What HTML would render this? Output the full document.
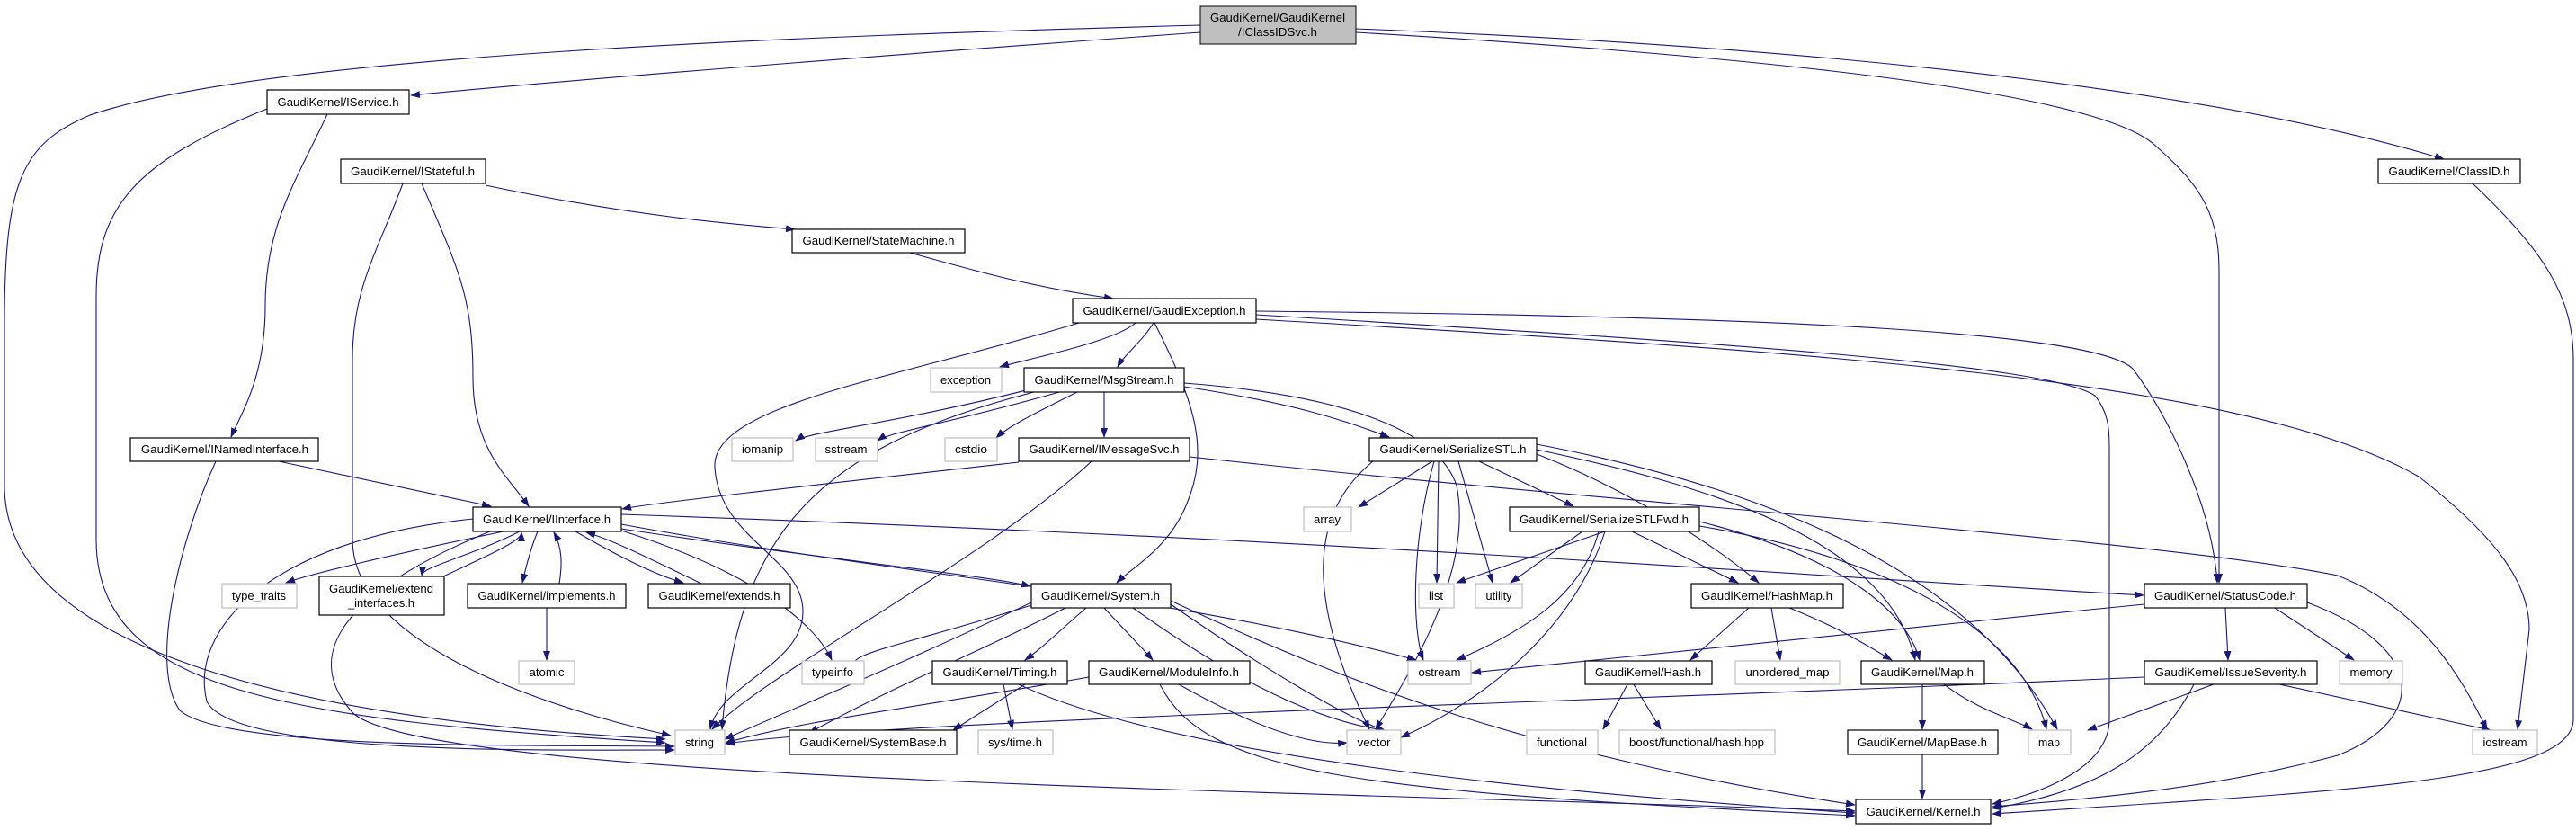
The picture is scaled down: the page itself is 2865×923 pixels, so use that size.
<!DOCTYPE html>
<html><head><meta charset="utf-8"><style>
html,body{margin:0;padding:0;background:#fff;}
svg{display:block;}
text{font-family:"Liberation Sans",sans-serif;font-size:12.5px;fill:#000;}
</style></head><body>
<svg id="g" width="2865" height="923" viewBox="0 0 2865 923" xmlns="http://www.w3.org/2000/svg">
<defs><marker id="ah" markerUnits="userSpaceOnUse" markerWidth="11" markerHeight="9" refX="10" refY="4" orient="auto"><path d="M0,0 L11,4 L0,8 z" fill="#191970"/></marker></defs>
<g id="edges" fill="none" stroke="#191970" stroke-width="1.1"></g>
<g id="nodes">
<rect x="1335" y="7" width="173" height="42" fill="#bfbfbf" stroke="#000"/>
<text x="1421" y="24" text-anchor="middle" textLength="150" lengthAdjust="spacingAndGlyphs">GaudiKernel/GaudiKernel</text>
<text x="1421" y="40" text-anchor="middle" textLength="88" lengthAdjust="spacingAndGlyphs">/IClassIDSvc.h</text>
</g>
</svg>
<script>
var NS='http://www.w3.org/2000/svg';
var E=document.getElementById('edges');
function P(d){var p=document.createElementNS(NS,'path');p.setAttribute('d',d);p.setAttribute('marker-end','url(#ah)');E.appendChild(p);}
P('M1335,28 C900,40 300,60 100,128 C25,160 5,200 5,360 L5,540 C5,720 320,800 740,822');
P('M1335,36 C1000,60 620,90 457,106');
P('M1508,32 C2100,55 2500,110 2718,177');
P('M1508,36 C2000,65 2330,105 2395,160 C2440,200 2468,230 2468,300 L2468,648');
P('M297,121 C150,180 107,230 107,330 L107,600 C107,770 320,800 740,826');
P('M364,127 C330,200 295,250 295,340 C295,420 268,460 257,486');
P('M448,204 C420,280 392,320 392,400 L392,600 C392,720 620,790 746,818');
P('M469,204 C510,300 526,330 526,420 C526,500 565,530 588,563');
P('M540,206 C700,240 820,250 884,255');
P('M1012,281 C1080,300 1150,320 1238,332');
P('M1200,359 C1000,420 790,450 795,520 C800,600 893,620 893,680 C893,740 800,760 790,811');
P('M1284,359 C1330,450 1345,500 1320,560 C1300,610 1260,630 1242,648');
P('M1397,346 C2000,352 2330,370 2372,410 C2410,460 2460,560 2466,648');
P('M1397,350 C1900,380 2280,405 2330,440 C2346,460 2346,480 2346,500 L2346,800 C2346,850 2280,880 2216,894');
P('M1397,355 C2000,390 2500,420 2690,530 C2780,600 2813,650 2813,700 L2800,811');
P('M1263,359 C1240,380 1140,400 1112,408');
P('M1283,359 C1270,380 1250,395 1243,408');
P('M2750,204 C2830,280 2862,330 2862,400 L2862,800 C2862,870 2600,880 2216,905');
P('M1323,508 C1800,560 2400,600 2600,640 C2700,680 2740,760 2766,811');
P('M1133,514 C900,540 720,560 692,566');
P('M1214,513 C1100,620 850,750 792,811');
P('M1317,430 C1450,450 1500,470 1545,486');
P('M1317,426 C1500,440 1600,480 1620,540 C1640,640 1560,760 1530,811');
P('M1150,436 C900,500 820,600 803,811');
P('M1145,433 C1000,470 900,480 885,490');
P('M1178,436 C1060,470 990,480 976,490');
P('M1198,436 C1150,460 1120,475 1108,487');
P('M1228,436 L1228,486');
P('M310,513 L546,563');
P('M240,513 C200,600 165,740 200,790 C250,835 600,828 750,830');
P('M526,577 C300,600 210,700 230,780 C260,840 600,834 750,834');
P('M545,591 C400,650 330,720 390,790 C450,870 1500,880 2063,902');
P('M691,572 C1500,600 2000,640 2384,662');
P('M691,583 C1000,640 1300,660 1575,734');
P('M691,588 C900,620 1100,640 1146,652');
P('M691,590 C850,640 910,700 925,734');
P('M2385,672 C2100,700 1800,730 1637,748');
P('M2385,753 C1800,780 1000,800 807,827');
P('M2475,676 L2478,734');
P('M2530,676 L2618,734');
P('M2566,670 C2700,720 2700,800 2600,840 C2450,880 2300,890 2216,897');
P('M2462,761 L2322,812');
P('M2440,761 C2400,840 2330,880 2216,899');
P('M2535,761 L2770,812');
P('M1302,668 C1500,760 1700,840 2063,895');
P('M1260,676 C1350,740 1450,800 1540,812');
P('M1302,672 C1400,740 1500,800 1540,812');
P('M1228,676 C1250,700 1270,720 1282,734');
P('M1208,676 C1180,700 1160,720 1140,734');
P('M1185,676 C1100,720 1000,760 900,815');
P('M1147,670 C1000,740 900,780 806,822');
P('M1147,673 C1000,720 920,730 961,745');
P('M1140,761 L1060,812');
P('M1116,761 L1126,811');
P('M1133,761 C1300,840 1700,880 2063,904');
P('M1211,753 C1000,790 900,800 807,826');
P('M1311,761 C1380,800 1450,830 1498,826');
P('M1290,761 C1340,860 1500,880 2063,907');
P('M1595,513 C1570,600 1570,700 1583,734');
P('M1600,513 L1598,648');
P('M1622,513 L1660,648');
P('M1593,513 L1511,564');
P('M1645,513 L1750,563');
P('M1527,513 C1470,560 1440,640 1523,811');
P('M1709,505 C1800,540 1900,600 1956,648');
P('M1709,500 C1900,540 2100,600 2130,734');
P('M1709,494 C2000,550 2200,650 2288,811');
P('M1785,591 L1620,648');
P('M1760,591 L1680,648');
P('M1778,591 C1760,660 1700,700 1620,734');
P('M1785,591 C1750,700 1650,780 1558,820');
P('M1815,591 L1933,648');
P('M1890,580 C2050,620 2120,680 2135,734');
P('M1890,585 C2100,620 2250,700 2276,811');
P('M1945,676 L1880,734');
P('M1970,676 L1980,734');
P('M1990,676 C2050,700 2080,720 2104,734');
P('M1810,761 L1783,811');
P('M1817,761 L1847,811');
P('M2138,761 L2138,811');
P('M2162,761 C2200,790 2240,800 2260,811');
P('M2138,839 L2138,888');
P('M598,591 C590,610 585,630 581,648');
P('M622,649 C625,630 626,610 616,592');
P('M578,591 C520,620 470,630 469,640');
P('M493,641 C560,610 580,600 580,592');
P('M640,591 C690,620 730,640 760,648');
P('M780,649 C720,620 680,600 652,592');
P('M560,591 C420,620 340,640 318,648');
P('M608,676 L608,734');
</script>
<svg style="position:absolute;left:0;top:0" width="2865" height="923" xmlns="http://www.w3.org/2000/svg">
<g stroke-width="1.2">
<rect x="297" y="100" width="158" height="27" fill="#fff" stroke="#000"/><text x="376" y="118" text-anchor="middle" textLength="135" lengthAdjust="spacingAndGlyphs">GaudiKernel/IService.h</text>
<rect x="379" y="177" width="161" height="27" fill="#fff" stroke="#000"/><text x="459" y="195" text-anchor="middle" textLength="138" lengthAdjust="spacingAndGlyphs">GaudiKernel/IStateful.h</text>
<rect x="2645" y="177" width="158" height="27" fill="#fff" stroke="#000"/><text x="2724" y="195" text-anchor="middle" textLength="135" lengthAdjust="spacingAndGlyphs">GaudiKernel/ClassID.h</text>
<rect x="881" y="255" width="192" height="26" fill="#fff" stroke="#000"/><text x="977" y="272" text-anchor="middle" textLength="169" lengthAdjust="spacingAndGlyphs">GaudiKernel/StateMachine.h</text>
<rect x="1193" y="332" width="204" height="27" fill="#fff" stroke="#000"/><text x="1295" y="350" text-anchor="middle" textLength="181" lengthAdjust="spacingAndGlyphs">GaudiKernel/GaudiException.h</text>
<rect x="1035" y="409" width="79" height="27" fill="#fff" stroke="#bfbfbf"/><text x="1074" y="427" text-anchor="middle" textLength="56" lengthAdjust="spacingAndGlyphs">exception</text>
<rect x="1139" y="409" width="178" height="27" fill="#fff" stroke="#000"/><text x="1228" y="427" text-anchor="middle" textLength="155" lengthAdjust="spacingAndGlyphs">GaudiKernel/MsgStream.h</text>
<rect x="145" y="487" width="209" height="26" fill="#fff" stroke="#000"/><text x="250" y="504" text-anchor="middle" textLength="186" lengthAdjust="spacingAndGlyphs">GaudiKernel/INamedInterface.h</text>
<rect x="814" y="487" width="68" height="26" fill="#fff" stroke="#bfbfbf"/><text x="848" y="504" text-anchor="middle" textLength="46" lengthAdjust="spacingAndGlyphs">iomanip</text>
<rect x="907" y="487" width="69" height="26" fill="#fff" stroke="#bfbfbf"/><text x="941" y="504" text-anchor="middle" textLength="47" lengthAdjust="spacingAndGlyphs">sstream</text>
<rect x="1051" y="487" width="58" height="26" fill="#fff" stroke="#bfbfbf"/><text x="1080" y="504" text-anchor="middle" textLength="36" lengthAdjust="spacingAndGlyphs">cstdio</text>
<rect x="1133" y="487" width="190" height="26" fill="#fff" stroke="#000"/><text x="1228" y="504" text-anchor="middle" textLength="167" lengthAdjust="spacingAndGlyphs">GaudiKernel/IMessageSvc.h</text>
<rect x="1523" y="487" width="186" height="26" fill="#fff" stroke="#000"/><text x="1616" y="504" text-anchor="middle" textLength="163" lengthAdjust="spacingAndGlyphs">GaudiKernel/SerializeSTL.h</text>
<rect x="526" y="564" width="165" height="27" fill="#fff" stroke="#000"/><text x="608" y="582" text-anchor="middle" textLength="142" lengthAdjust="spacingAndGlyphs">GaudiKernel/IInterface.h</text>
<rect x="1450" y="564" width="53" height="27" fill="#fff" stroke="#bfbfbf"/><text x="1476" y="582" text-anchor="middle" textLength="30" lengthAdjust="spacingAndGlyphs">array</text>
<rect x="1679" y="564" width="211" height="27" fill="#fff" stroke="#000"/><text x="1784" y="582" text-anchor="middle" textLength="188" lengthAdjust="spacingAndGlyphs">GaudiKernel/SerializeSTLFwd.h</text>
<rect x="247" y="649" width="83" height="27" fill="#fff" stroke="#bfbfbf"/><text x="288" y="667" text-anchor="middle" textLength="60" lengthAdjust="spacingAndGlyphs">type_traits</text>
<rect x="355" y="641" width="139" height="43" fill="#fff" stroke="#000"/><text x="424" y="659" text-anchor="middle" textLength="116" lengthAdjust="spacingAndGlyphs">GaudiKernel/extend</text><text x="424" y="675" text-anchor="middle" textLength="74" lengthAdjust="spacingAndGlyphs">_interfaces.h</text>
<rect x="520" y="649" width="176" height="27" fill="#fff" stroke="#000"/><text x="608" y="667" text-anchor="middle" textLength="153" lengthAdjust="spacingAndGlyphs">GaudiKernel/implements.h</text>
<rect x="721" y="649" width="158" height="27" fill="#fff" stroke="#000"/><text x="800" y="667" text-anchor="middle" textLength="135" lengthAdjust="spacingAndGlyphs">GaudiKernel/extends.h</text>
<rect x="1147" y="649" width="155" height="27" fill="#fff" stroke="#000"/><text x="1224" y="667" text-anchor="middle" textLength="132" lengthAdjust="spacingAndGlyphs">GaudiKernel/System.h</text>
<rect x="1578" y="649" width="39" height="27" fill="#fff" stroke="#bfbfbf"/><text x="1597" y="667" text-anchor="middle" textLength="16" lengthAdjust="spacingAndGlyphs">list</text>
<rect x="1641" y="649" width="52" height="27" fill="#fff" stroke="#bfbfbf"/><text x="1667" y="667" text-anchor="middle" textLength="29" lengthAdjust="spacingAndGlyphs">utility</text>
<rect x="1881" y="649" width="169" height="27" fill="#fff" stroke="#000"/><text x="1965" y="667" text-anchor="middle" textLength="146" lengthAdjust="spacingAndGlyphs">GaudiKernel/HashMap.h</text>
<rect x="2385" y="649" width="181" height="27" fill="#fff" stroke="#000"/><text x="2475" y="667" text-anchor="middle" textLength="158" lengthAdjust="spacingAndGlyphs">GaudiKernel/StatusCode.h</text>
<rect x="577" y="735" width="62" height="26" fill="#fff" stroke="#bfbfbf"/><text x="608" y="752" text-anchor="middle" textLength="39" lengthAdjust="spacingAndGlyphs">atomic</text>
<rect x="892" y="735" width="69" height="26" fill="#fff" stroke="#bfbfbf"/><text x="926" y="752" text-anchor="middle" textLength="46" lengthAdjust="spacingAndGlyphs">typeinfo</text>
<rect x="1037" y="735" width="150" height="26" fill="#fff" stroke="#000"/><text x="1112" y="752" text-anchor="middle" textLength="127" lengthAdjust="spacingAndGlyphs">GaudiKernel/Timing.h</text>
<rect x="1211" y="735" width="179" height="26" fill="#fff" stroke="#000"/><text x="1300" y="752" text-anchor="middle" textLength="156" lengthAdjust="spacingAndGlyphs">GaudiKernel/ModuleInfo.h</text>
<rect x="1566" y="735" width="70" height="26" fill="#fff" stroke="#bfbfbf"/><text x="1601" y="752" text-anchor="middle" textLength="47" lengthAdjust="spacingAndGlyphs">ostream</text>
<rect x="1763" y="735" width="141" height="26" fill="#fff" stroke="#000"/><text x="1833" y="752" text-anchor="middle" textLength="118" lengthAdjust="spacingAndGlyphs">GaudiKernel/Hash.h</text>
<rect x="1930" y="735" width="116" height="26" fill="#fff" stroke="#bfbfbf"/><text x="1988" y="752" text-anchor="middle" textLength="93" lengthAdjust="spacingAndGlyphs">unordered_map</text>
<rect x="2070" y="735" width="137" height="26" fill="#fff" stroke="#000"/><text x="2138" y="752" text-anchor="middle" textLength="114" lengthAdjust="spacingAndGlyphs">GaudiKernel/Map.h</text>
<rect x="2385" y="735" width="192" height="26" fill="#fff" stroke="#000"/><text x="2481" y="752" text-anchor="middle" textLength="169" lengthAdjust="spacingAndGlyphs">GaudiKernel/IssueSeverity.h</text>
<rect x="2602" y="735" width="70" height="26" fill="#fff" stroke="#bfbfbf"/><text x="2637" y="752" text-anchor="middle" textLength="47" lengthAdjust="spacingAndGlyphs">memory</text>
<rect x="751" y="812" width="55" height="27" fill="#fff" stroke="#bfbfbf"/><text x="778" y="830" text-anchor="middle" textLength="32" lengthAdjust="spacingAndGlyphs">string</text>
<rect x="878" y="812" width="186" height="27" fill="#fff" stroke="#000"/><text x="971" y="830" text-anchor="middle" textLength="163" lengthAdjust="spacingAndGlyphs">GaudiKernel/SystemBase.h</text>
<rect x="1088" y="812" width="83" height="27" fill="#fff" stroke="#bfbfbf"/><text x="1129" y="830" text-anchor="middle" textLength="60" lengthAdjust="spacingAndGlyphs">sys/time.h</text>
<rect x="1498" y="812" width="60" height="27" fill="#fff" stroke="#bfbfbf"/><text x="1528" y="830" text-anchor="middle" textLength="37" lengthAdjust="spacingAndGlyphs">vector</text>
<rect x="1698" y="812" width="79" height="27" fill="#fff" stroke="#bfbfbf"/><text x="1737" y="830" text-anchor="middle" textLength="56" lengthAdjust="spacingAndGlyphs">functional</text>
<rect x="1801" y="812" width="173" height="27" fill="#fff" stroke="#bfbfbf"/><text x="1887" y="830" text-anchor="middle" textLength="150" lengthAdjust="spacingAndGlyphs">boost/functional/hash.hpp</text>
<rect x="2055" y="812" width="167" height="27" fill="#fff" stroke="#000"/><text x="2138" y="830" text-anchor="middle" textLength="144" lengthAdjust="spacingAndGlyphs">GaudiKernel/MapBase.h</text>
<rect x="2256" y="812" width="47" height="27" fill="#fff" stroke="#bfbfbf"/><text x="2279" y="830" text-anchor="middle" textLength="24" lengthAdjust="spacingAndGlyphs">map</text>
<rect x="2750" y="812" width="72" height="27" fill="#fff" stroke="#bfbfbf"/><text x="2786" y="830" text-anchor="middle" textLength="49" lengthAdjust="spacingAndGlyphs">iostream</text>
<rect x="2064" y="889" width="150" height="27" fill="#fff" stroke="#000"/><text x="2139" y="907" text-anchor="middle" textLength="127" lengthAdjust="spacingAndGlyphs">GaudiKernel/Kernel.h</text>
</g>
</svg>
</body></html>
